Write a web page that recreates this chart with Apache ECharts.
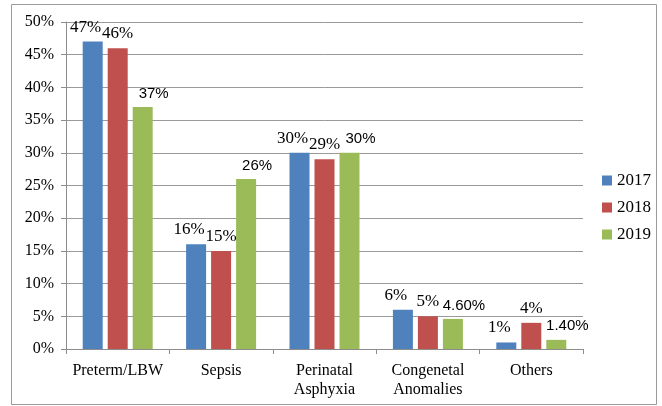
<!DOCTYPE html>
<html>
<head>
<meta charset="utf-8">
<script src="https://cdn.jsdelivr.net/npm/echarts@6/dist/echarts.min.js"></script>
<style>
  html, body { margin: 0; padding: 0; background: #fff; }
  #chart { width: 662px; height: 406px; }
</style>
</head>
<body>
<div id="chart"></div>
<script>
var categories = ['Preterm/LBW', 'Sepsis', 'Perinatal\nAsphyxia', 'Congenetal\nAnomalies', 'Others'];
var years = ['2017', '2018', '2019'];
var v2017 = [47, 16, 30, 6, 1];
var v2018 = [46, 15, 29, 5, 4];
var v2019 = [37, 26, 30, 4.6, 1.4];
var labels2017 = ['47%', '16%', '30%', '6%', '1%'];
var labels2018 = ['46%', '15%', '29%', '5%', '4%'];
var labels2019 = ['37%', '26%', '30%', '4.60%', '1.40%'];
var colors = ['#4F81BD', '#C0504D', '#9BBB59'];

var serif = '"Liberation Serif", "Times New Roman", serif';
var sans = '"Liberation Sans", Arial, sans-serif';

function makeSeries(name, values, texts, color, font, size, dx) {
    return {
        name: name,
        type: 'bar',
        barWidth: 20,
        barGap: '25%',
        itemStyle: { color: color },
        label: {
            show: true,
            position: 'top',
            distance: 6,
            offset: [dx, 0],
            fontFamily: font,
            fontSize: size,
            color: '#000',
            formatter: function (p) { return texts[p.dataIndex]; }
        },
        data: values
    };
}

var myChart = echarts.init(document.getElementById('chart'));
var option = {
    animation: false,
    color: colors,
    graphic: [{
        type: 'rect',
        shape: { x: 11.5, y: 4.5, width: 645, height: 400 },
        style: { fill: 'none', stroke: '#9a9a9a', lineWidth: 1 }
    }],
    grid: { left: 66, right: 79, top: 22, bottom: 57 },
    legend: {
        orient: 'vertical',
        left: 597,
        top: 167,
        itemWidth: 10,
        itemHeight: 10,
        itemGap: 10,
        icon: 'rect',
        textStyle: { fontFamily: serif, fontSize: 17, color: '#000' },
        data: years
    },
    xAxis: {
        type: 'category',
        data: categories,
        axisLine: { lineStyle: { color: '#8c8c8c' } },
        axisTick: { show: true, length: 5, lineStyle: { color: '#8c8c8c' } },
        axisLabel: { interval: 0, fontFamily: serif, fontSize: 16, color: '#000', margin: 12, lineHeight: 19 }
    },
    yAxis: {
        type: 'value',
        min: 0,
        max: 50,
        interval: 5,
        axisLine: { show: true, lineStyle: { color: '#8c8c8c' } },
        axisTick: { show: true, length: 5, lineStyle: { color: '#8c8c8c' } },
        splitLine: { lineStyle: { color: '#9a9a9a' } },
        axisLabel: { fontFamily: serif, fontSize: 16, color: '#000', margin: 12, formatter: '{value}%' }
    },
    series: [
        makeSeries('2017', v2017, labels2017, colors[0], serif, 17, -7),
        makeSeries('2018', v2018, labels2018, colors[1], serif, 17, 0),
        makeSeries('2019', v2019, labels2019, colors[2], sans, 15, 11)
    ]
};
myChart.setOption(option);
</script>
</body>
</html>
